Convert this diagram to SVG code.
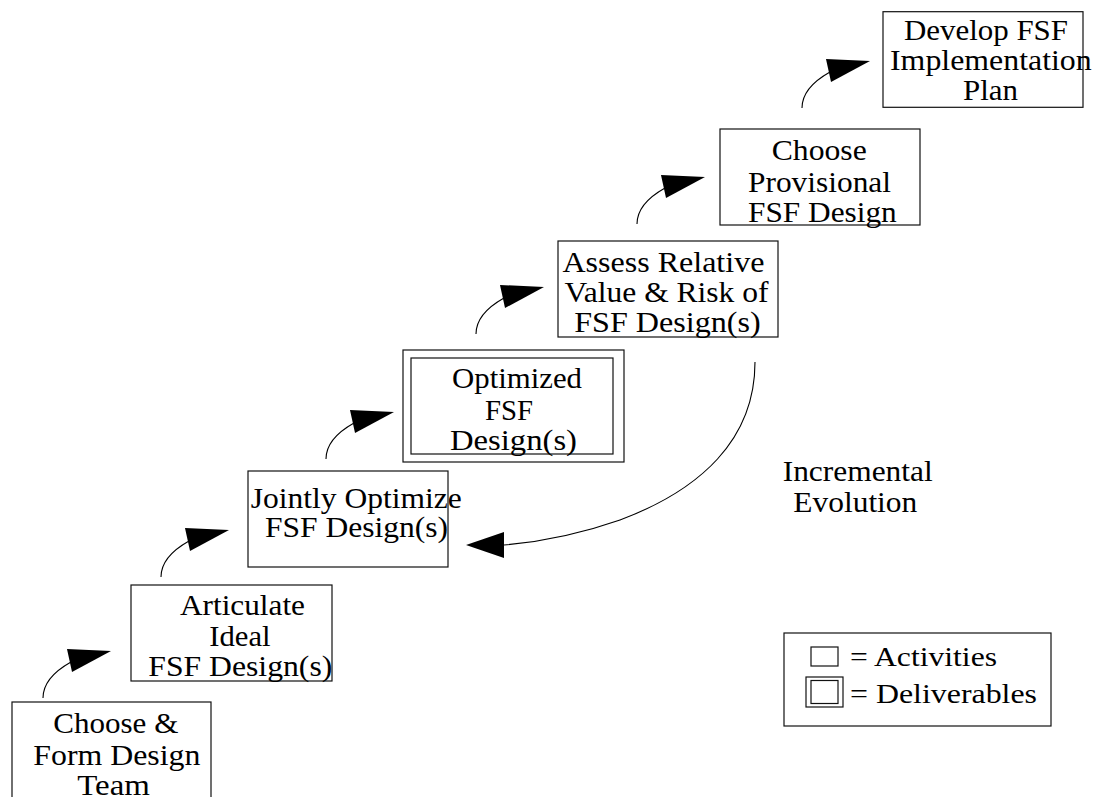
<svg xmlns="http://www.w3.org/2000/svg" xmlns:xlink="http://www.w3.org/1999/xlink" width="1100" height="797" viewBox="0 0 1100 797">
<style>
  .box { fill: none; stroke: #111; stroke-width: 1.2; }
  .lbl { font-family: 'Liberation Serif', 'Times New Roman', Times, serif; font-size: 30px; fill: #000; }
  .leg { font-family: 'Liberation Serif', 'Times New Roman', Times, serif; font-size: 28px; fill: #000; }
  .conn { fill: none; stroke: #000; stroke-width: 1.1; }
  .head { fill: #000; stroke: none; }
</style>
<defs>
  <g id="stepArrow">
    <path class="conn" d="M0,0 C0,-16 12,-27 28,-36"/>
    <polygon class="head" points="24,-49 68,-47 29,-26"/>
  </g>
</defs>
<rect width="1100" height="797" fill="#fff"/>

<g id="connectors">
  <use xlink:href="#stepArrow" href="#stepArrow" x="43" y="698"/>
  <use xlink:href="#stepArrow" href="#stepArrow" x="161" y="577"/>
  <use xlink:href="#stepArrow" href="#stepArrow" x="326" y="459"/>
  <use xlink:href="#stepArrow" href="#stepArrow" x="476" y="334"/>
  <use xlink:href="#stepArrow" href="#stepArrow" x="637" y="224"/>
  <use xlink:href="#stepArrow" href="#stepArrow" x="802" y="108"/>
  <path class="conn" d="M755,362 C755,440 700,490 620,520 C580,534 540,542 504,545"/>
  <polygon class="head" points="466,545 504,532 504,558"/>
</g>

<g id="node-choose-team" font-family="Liberation Serif">
  <rect class="box" x="12" y="702" width="199" height="100"/>
  <text class="lbl" x="53.3" y="733" textLength="125" lengthAdjust="spacingAndGlyphs">Choose &amp;</text>
  <text class="lbl" x="33.3" y="765" textLength="167" lengthAdjust="spacingAndGlyphs">Form Design</text>
  <text class="lbl" x="77.3" y="795" textLength="72.7" lengthAdjust="spacingAndGlyphs">Team</text>
</g>

<g id="node-articulate">
  <rect class="box" x="131" y="585" width="201" height="96"/>
  <text class="lbl" x="180" y="615" textLength="125" lengthAdjust="spacingAndGlyphs">Articulate</text>
  <text class="lbl" x="209.3" y="646" textLength="61.3" lengthAdjust="spacingAndGlyphs">Ideal</text>
  <text class="lbl" x="148.3" y="676" textLength="184" lengthAdjust="spacingAndGlyphs">FSF Design(s)</text>
</g>

<g id="node-jointly-optimize">
  <rect class="box" x="248" y="471" width="200" height="96"/>
  <text class="lbl" x="250.7" y="508" textLength="211" lengthAdjust="spacingAndGlyphs">Jointly Optimize</text>
  <text class="lbl" x="265" y="537" textLength="183" lengthAdjust="spacingAndGlyphs">FSF Design(s)</text>
</g>

<g id="node-optimized">
  <rect class="box" x="403" y="350" width="221" height="112"/>
  <rect class="box" x="411" y="358" width="202" height="96"/>
  <text class="lbl" x="452" y="388" textLength="130" lengthAdjust="spacingAndGlyphs">Optimized</text>
  <text class="lbl" x="485" y="420" textLength="48" lengthAdjust="spacingAndGlyphs">FSF</text>
  <text class="lbl" x="450" y="450" textLength="127" lengthAdjust="spacingAndGlyphs">Design(s)</text>
</g>

<g id="node-assess">
  <rect class="box" x="558" y="241" width="220" height="96"/>
  <text class="lbl" x="562.4" y="271.7" textLength="202" lengthAdjust="spacingAndGlyphs">Assess Relative</text>
  <text class="lbl" x="564.5" y="301.7" textLength="204" lengthAdjust="spacingAndGlyphs">Value &amp; Risk of</text>
  <text class="lbl" x="574.2" y="331.7" textLength="186.5" lengthAdjust="spacingAndGlyphs">FSF Design(s)</text>
</g>

<g id="node-choose-provisional">
  <rect class="box" x="720" y="129" width="200" height="96"/>
  <text class="lbl" x="771.7" y="160" textLength="95" lengthAdjust="spacingAndGlyphs">Choose</text>
  <text class="lbl" x="748" y="191.7" textLength="143" lengthAdjust="spacingAndGlyphs">Provisional</text>
  <text class="lbl" x="748" y="221.7" textLength="148.7" lengthAdjust="spacingAndGlyphs">FSF Design</text>
</g>

<g id="node-develop-plan">
  <rect class="box" x="883" y="11.7" width="200" height="95.6"/>
  <text class="lbl" x="904" y="40" textLength="164" lengthAdjust="spacingAndGlyphs">Develop FSF</text>
  <text class="lbl" x="890" y="70" textLength="201.7" lengthAdjust="spacingAndGlyphs">Implementation</text>
  <text class="lbl" x="963" y="100" textLength="55" lengthAdjust="spacingAndGlyphs">Plan</text>
</g>

<g id="label-incremental">
  <text class="lbl" x="782.7" y="480.7" textLength="150" lengthAdjust="spacingAndGlyphs">Incremental</text>
  <text class="lbl" x="793.3" y="511.7" textLength="124" lengthAdjust="spacingAndGlyphs">Evolution</text>
</g>

<g id="legend">
  <rect class="box" x="784" y="633" width="267" height="93"/>
  <rect class="box" x="811" y="647" width="27" height="19"/>
  <rect class="box" x="806" y="677" width="37" height="30"/>
  <rect class="box" x="811" y="680.5" width="27" height="23"/>
  <text class="leg" x="850" y="666" textLength="147" lengthAdjust="spacingAndGlyphs">= Activities</text>
  <text class="leg" x="850" y="703" textLength="187" lengthAdjust="spacingAndGlyphs">= Deliverables</text>
</g>
</svg>
